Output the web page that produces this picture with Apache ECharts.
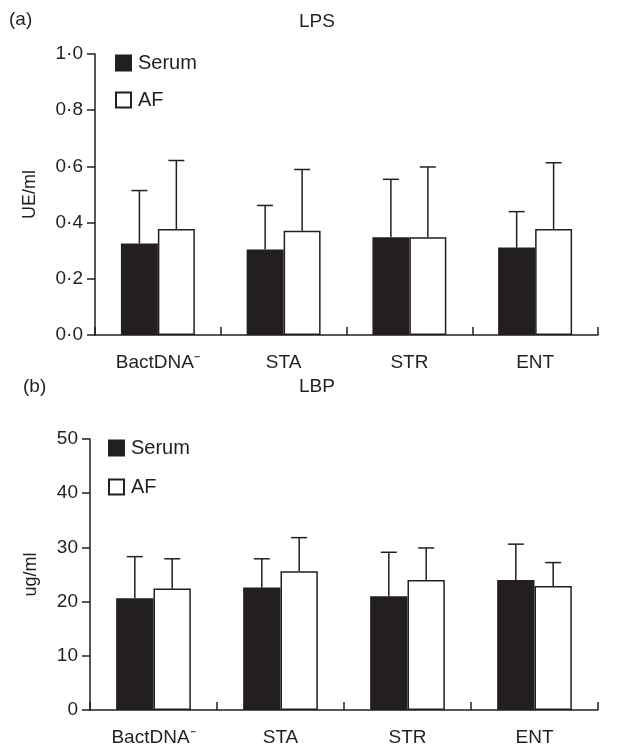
<!DOCTYPE html>
<html>
<head>
<meta charset="utf-8">
<script src="https://cdn.jsdelivr.net/npm/echarts@6/dist/echarts.min.js"></script>
<style>
html,body{margin:0;padding:0;background:#fff;}
#c{width:626px;height:749px;}
</style>
</head>
<body>
<div id="c"></div>
<script>
// ---- data ----
var categories = ['BactDNA\u207B', 'STA', 'STR', 'ENT'];
var seriesNames = ['Serum', 'AF'];
// Panel (a) LPS, UE/ml
var lpsSerum = [0.326, 0.304, 0.348, 0.311];
var lpsSerumUpper = [0.514, 0.461, 0.554, 0.439];
var lpsAF = [0.377, 0.371, 0.348, 0.377];
var lpsAFUpper = [0.621, 0.589, 0.598, 0.613];
var lpsTicks = [0, 0.2, 0.4, 0.6, 0.8, 1.0];
// Panel (b) LBP, ug/ml
var lbpSerum = [20.6, 22.6, 21.0, 24.0];
var lbpSerumUpper = [28.3, 27.9, 29.1, 30.6];
var lbpAF = [22.4, 25.6, 24.0, 22.9];
var lbpAFUpper = [27.9, 31.8, 29.9, 27.2];
var lbpTicks = [0, 10, 20, 30, 40, 50];

var INK = '#231f20';
var FONT = '"Liberation Sans", Arial, Helvetica, sans-serif';
var BAR_RATIO = 0.294;

function errSeries(gridIdx, values, uppers, side) {
  var data = values.map(function (v, i) { return [i, v, uppers[i]]; });
  return {
    type: 'custom', xAxisIndex: gridIdx, yAxisIndex: gridIdx, z: 5,
    silent: true,
    data: data,
    renderItem: function (params, api) {
      var i = api.value(0), v = api.value(1), u = api.value(2);
      var base = api.coord([i, v]);
      var top = api.coord([i, u]);
      var bw = api.size([1, 0])[0] * BAR_RATIO;
      var cx = base[0] + side * bw / 2;
      var half = 8;
      var st = { stroke: INK, lineWidth: 1.5 };
      return {
        type: 'group',
        children: [
          { type: 'line', shape: { x1: cx, y1: base[1], x2: cx, y2: top[1] }, style: st },
          { type: 'line', shape: { x1: cx - half, y1: top[1], x2: cx + half, y2: top[1] }, style: st }
        ]
      };
    }
  };
}

function xAxisCfg(gridIdx) {
  return {
    type: 'category', gridIndex: gridIdx, data: categories,
    axisLine: { lineStyle: { color: INK, width: 1.5 } },
    axisTick: { show: true, inside: true, length: 8, lineStyle: { color: INK, width: 1.5 } },
    axisLabel: { color: INK, fontFamily: FONT, fontSize: 19, margin: 18 }
  };
}

function yAxisCfg(gridIdx, ticks, name, fmt, gap) {
  return {
    type: 'value', gridIndex: gridIdx,
    min: ticks[0], max: ticks[ticks.length - 1], interval: ticks[1] - ticks[0],
    name: name, nameLocation: 'middle', nameGap: gap, nameRotate: 90,
    nameTextStyle: { color: INK, fontFamily: FONT, fontSize: 18 },
    axisLine: { show: true, lineStyle: { color: INK, width: 1.5 } },
    axisTick: { show: true, length: 8, lineStyle: { color: INK, width: 1.5 } },
    splitLine: { show: false },
    axisLabel: { color: INK, fontFamily: FONT, fontSize: 19, margin: 12, formatter: fmt }
  };
}

var dotFmt = function (v) { return v.toFixed(1).replace('.', '\u00B7'); };
var intFmt = function (v) { return String(v); };

var serumStyle = { color: INK, borderColor: INK, borderWidth: 1.5 };
var afStyle = { color: '#ffffff', borderColor: INK, borderWidth: 1.5 };

var titleStyle = { color: INK, fontFamily: FONT, fontSize: 19, fontWeight: 'normal' };

var option = {
  animation: false,
  backgroundColor: '#ffffff',
  textStyle: { fontFamily: FONT },
  title: [
    { text: '(a)', left: 4, top: 5, textStyle: titleStyle },
    { text: 'LPS', left: 312, top: 7, textAlign: 'center', textStyle: titleStyle },
    { text: '(b)', left: 18, top: 372, textStyle: titleStyle },
    { text: 'LBP', left: 312, top: 372, textAlign: 'center', textStyle: titleStyle }
  ],
  legend: [
    {
      orient: 'vertical', left: 110, top: 48, itemWidth: 15, itemHeight: 15, itemGap: 17,
      icon: 'rect', data: seriesNames,
      textStyle: { color: INK, fontFamily: FONT, fontSize: 20, padding: [0, 0, 0, 2] }
    },
    {
      orient: 'vertical', left: 103, top: 433, itemWidth: 15, itemHeight: 15, itemGap: 19,
      icon: 'rect', data: seriesNames,
      textStyle: { color: INK, fontFamily: FONT, fontSize: 20, padding: [0, 0, 0, 2] }
    }
  ],
  grid: [
    { left: 95, right: 28, top: 54, height: 281 },
    { left: 90, right: 28, top: 439, height: 271 }
  ],
  xAxis: [xAxisCfg(0), xAxisCfg(1)],
  yAxis: [yAxisCfg(0, lpsTicks, 'UE/ml', dotFmt, 56), yAxisCfg(1, lbpTicks, 'ug/ml', intFmt, 50)],
  series: [
    { name: 'Serum', type: 'bar', xAxisIndex: 0, yAxisIndex: 0, data: lpsSerum, barWidth: (BAR_RATIO * 100) + '%', barGap: '0%', itemStyle: serumStyle },
    { name: 'AF', type: 'bar', xAxisIndex: 0, yAxisIndex: 0, data: lpsAF, barWidth: (BAR_RATIO * 100) + '%', barGap: '0%', itemStyle: afStyle },
    { name: 'Serum', type: 'bar', xAxisIndex: 1, yAxisIndex: 1, data: lbpSerum, barWidth: (BAR_RATIO * 100) + '%', barGap: '0%', itemStyle: serumStyle },
    { name: 'AF', type: 'bar', xAxisIndex: 1, yAxisIndex: 1, data: lbpAF, barWidth: (BAR_RATIO * 100) + '%', barGap: '0%', itemStyle: afStyle },
    errSeries(0, lpsSerum, lpsSerumUpper, -1),
    errSeries(0, lpsAF, lpsAFUpper, 1),
    errSeries(1, lbpSerum, lbpSerumUpper, -1),
    errSeries(1, lbpAF, lbpAFUpper, 1)
  ]
};

var chart = echarts.init(document.getElementById('c'), null, { renderer: 'canvas' });
chart.setOption(option);
</script>
</body>
</html>
